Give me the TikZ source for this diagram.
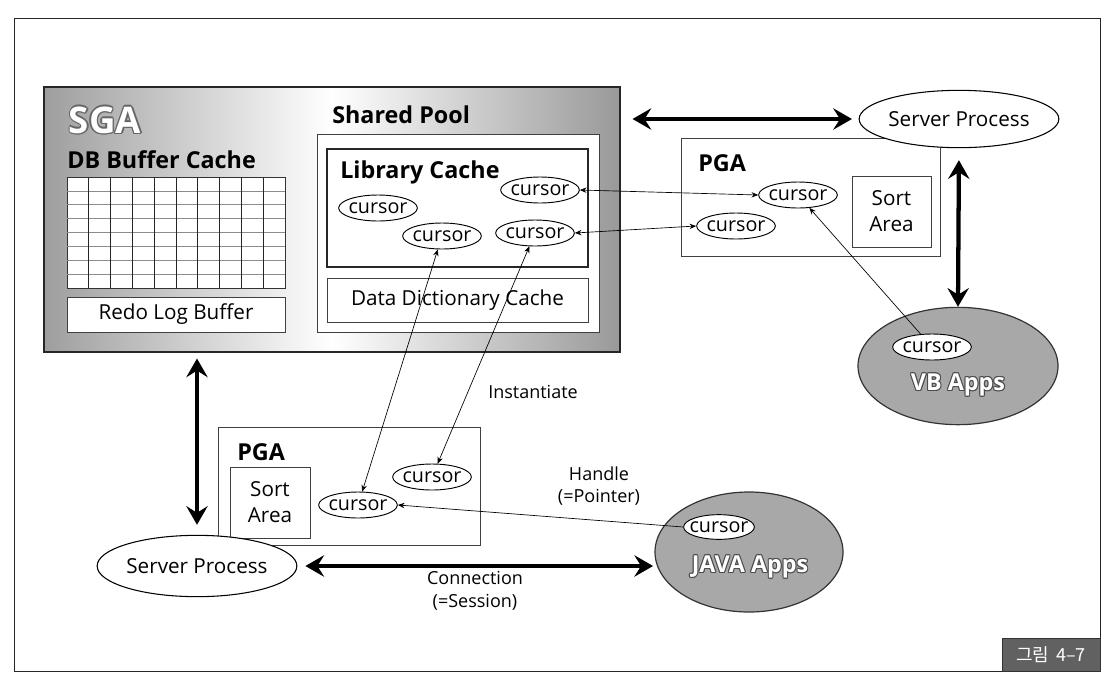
\documentclass[tikz,border=0pt]{standalone}
\usepackage{fontspec}
\setmainfont{Open Sans}
\newfontfamily\krfont{Noto Sans CJK KR}
\usetikzlibrary{arrows.meta,shapes.geometric,fit}
\newdimen\myolA
\newdimen\myolB
\newcommand\myoutline[3]{\leavevmode\myolA=#2\relax\myolB=0.7\myolA
  \rlap{\color{#1}\hspace{-\myolA}#3}\rlap{\color{#1}\hspace{\myolA}#3}%
  \rlap{\color{#1}\raisebox{\myolA}{#3}}\rlap{\color{#1}\raisebox{-\myolA}{#3}}%
  \rlap{\color{#1}\hspace{-\myolB}\raisebox{\myolB}{#3}}\rlap{\color{#1}\hspace{\myolB}\raisebox{-\myolB}{#3}}%
  \rlap{\color{#1}\hspace{-\myolB}\raisebox{-\myolB}{#3}}\rlap{\color{#1}\hspace{\myolB}\raisebox{\myolB}{#3}}%
  {\color{white}#3}}
\begin{document}
\begin{tikzpicture}[x=0.75pt,y=-0.75pt,
  box/.style={draw=black!75, line width=0.6pt, fill=white, inner sep=0pt},
  cur/.style={ellipse, draw=black, line width=0.7pt, fill=white, minimum width=59pt, minimum height=19.5pt, inner sep=0pt, font=\fontsize{14.8}{18}\selectfont},
  reg/.style={font=\fontsize{15.5}{19.5}\selectfont, inner sep=0pt, align=center},
  small/.style={font=\fontsize{13.5}{17}\selectfont, inner sep=0pt, align=center},
  boldtxt/.style={font=\fontsize{17.5}{20}\selectfont\bfseries, inner sep=0pt},
  apptxt/.style={font=\fontsize{17.5}{20}\selectfont\bfseries, inner sep=0pt},
  sgatxt/.style={font=\fontsize{27.5}{30}\selectfont\bfseries, inner sep=0pt},
  proc/.style={ellipse, draw=black, line width=0.8pt, fill=white, inner sep=0pt, font=\fontsize{15.5}{18}\selectfont},
  app/.style={ellipse, draw=black!80, line width=0.9pt, fill=black!34, inner sep=0pt},
  thinarrow/.style={line width=0.5pt, {Stealth[length=5pt,width=4pt]}-{Stealth[length=5pt,width=4pt]}},
  onearrow/.style={line width=0.5pt, -{Stealth[length=5pt,width=4pt]}},
  bigarrow/.style={line width=3.2pt, {Stealth[length=14pt,width=16pt,inset=5pt]}-{Stealth[length=14pt,width=16pt,inset=5pt]}}
]
\useasboundingbox (0,0) rectangle (1118,690);
% outer frame
\node[fit={(14,18) (1100,671)}, draw=black!85, line width=0.7pt, inner sep=0pt] (frame) {};
\node[fit={(1002,638) (1100,671)}, fill=black!62, draw=black!80, line width=0.5pt, inner sep=0pt] (lblbox) {};
\node[text=white, font=\krfont\fontsize{13.5}{15}\selectfont, inner sep=0pt] (lbl) at (1051,655) {그림\hspace{5pt}4–7};

% SGA
\node[fit={(44,87) (620,352)}, draw=black!85, line width=0.8pt, inner sep=0pt,
      left color=black!38, right color=black!40, middle color=white] (sga) {};
\node[sgatxt] (sgat) at (105,120) {\myoutline{black!60}{1pt}{SGA}};
\node[boldtxt, anchor=west] (dbc) at (67,160) {DB Buffer Cache};

% grid
\node[fit={(67,177) (285,288)}, draw=black!80, line width=0.6pt, fill=white, inner sep=0pt] (grid) {};
\foreach \j in {1,...,7}{
  \draw[black!45, line width=0.5pt] (67,177+\j*13.875) -- (285,177+\j*13.875);
}
\foreach \i in {1,...,9}{
  \draw[black!85, line width=0.5pt] (67+\i*21.8,177) -- (67+\i*21.8,288);
}
\node[box, fit={(67,297) (285,332)}] (redo) {};
\node[reg] (redot) at (redo.center) {Redo Log Buffer};

% Shared pool
\node[boldtxt, anchor=west] (spt) at (332,115) {Shared Pool};
\node[box, fit={(317,134) (599,332)}] (sp) {};
\node[box, draw=black!85, line width=1.3pt, fit={(327,149) (588,267)}] (lib) {};
\node[boldtxt, anchor=west] (libt) at (340,172) {Library Cache};
\node[box, fit={(327,278) (588,322)}] (ddc) {};
\node[reg] (ddct) at (ddc.center) {Data Dictionary Cache};
\node[cur] (lc1) at (540,190) {\makebox[0pt]{cursor}};
\node[cur] (lc2) at (378,208) {\makebox[0pt]{cursor}};
\node[cur] (lc3) at (442,236) {\makebox[0pt]{cursor}};
\node[cur] (lc4) at (535,233) {\makebox[0pt]{cursor}};

% right PGA
\node[box, fit={(681,138) (940,256)}] (pgar) {};
\node[boldtxt, anchor=west] (pgart) at (698,163) {PGA};
\node[box, fit={(852,176) (931,247)}] (sortr) {};
\node[reg] (sortrt) at (sortr.center) {Sort\\Area};
\node[cur] (pc1) at (798,195) {\makebox[0pt]{cursor}};
\node[cur] (pc2) at (736,226) {\makebox[0pt]{cursor}};
\node[proc, minimum width=130.5pt, minimum height=43pt] (tsp) at (959,119) {Server Process};

% VB apps
\node[app, minimum width=150pt, minimum height=88pt] (vb) at (958,366) {};
\node[cur] (vc) at (932,347) {\makebox[0pt]{cursor}};
\node[apptxt] (vbt) at (958,385) {\myoutline{black!70}{0.8pt}{VB Apps}};

% bottom PGA
\node[box, fit={(218,427) (480,545)}] (pgab) {};
\node[boldtxt, anchor=west] (pgabt) at (237,452) {PGA};
\node[box, fit={(230,467) (310,538)}] (sortb) {};
\node[reg] (sortbt) at (sortb.center) {Sort\\Area};
\node[cur] (bc1) at (358,505) {\makebox[0pt]{cursor}};
\node[cur] (bc2) at (432,477) {\makebox[0pt]{cursor}};
\node[proc, minimum width=133pt, minimum height=46pt] (bsp) at (197,566) {Server Process};

% JAVA apps
\node[app, minimum width=141pt, minimum height=90pt] (java) at (749,552) {};
\node[cur, minimum width=53pt, minimum height=18.5pt] (jc) at (719,527) {\makebox[0pt]{cursor}};
\node[apptxt] (jvt) at (750,567) {\myoutline{black!70}{0.8pt}{JAVA Apps}};

% labels
\node[small] (inst) at (533,392) {Instantiate};
\node[small, font=\fontsize{13.5}{16}\selectfont] (hdl) at (599,486) {Handle\\(=Pointer)};
\node[small] (conn) at (475,591) {Connection\\(=Session)};

% thin connectors
\draw[thinarrow] (lc1.east) -- (pc1.west);
\draw[thinarrow] (lc4.east) -- (pc2.west);
\draw[thinarrow] (lc3) -- (bc1);
\draw[thinarrow] (lc4) -- (bc2);
\draw[onearrow] (jc.west) -- (bc1.east);
\draw[onearrow] (vc) -- (pc1);

% thick connectors
\draw[bigarrow, shorten <=9pt, shorten >=5pt] (tsp.west -| sga.east) -- (tsp.west);
\draw[bigarrow, shorten <=9pt] (tsp.south) -- (vb.north);
\draw[bigarrow, shorten <=4.5pt, shorten >=7.5pt] (bsp.north |- sga.south) -- (bsp.north);
\draw[bigarrow, shorten <=6pt, shorten >=1pt] (bsp.east) -- (bsp.east -| java.west);
\end{tikzpicture}
\end{document}
